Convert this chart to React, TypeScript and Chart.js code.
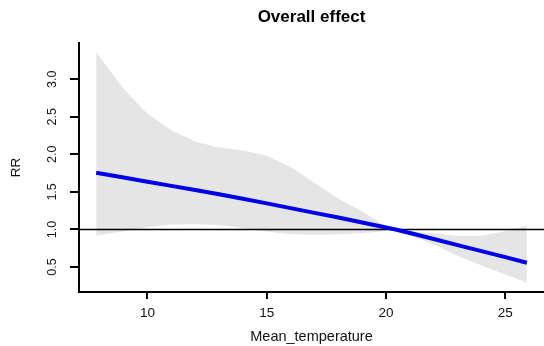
import React, { useEffect, useRef } from "react";
import { Chart, registerables } from "chart.js";

Chart.register(...registerables);

// Temperature grid (x) and estimates
const temps = [7.85, 9, 10, 11, 12, 13, 14, 15, 16, 17, 18, 19, 20, 20.4, 21, 22, 23, 24, 25, 25.9];
const rr = [1.756, 1.692, 1.636, 1.58, 1.525, 1.47, 1.41, 1.347, 1.284, 1.221, 1.158, 1.092, 1.026, 1.0, 0.952, 0.872, 0.792, 0.712, 0.632, 0.556];
const rrHigh = [3.36, 2.87, 2.54, 2.32, 2.17, 2.09, 2.05, 1.98, 1.83, 1.62, 1.41, 1.24, 1.04, 1.0, 0.975, 0.945, 0.915, 0.915, 0.98, 1.05];
const rrLow = [0.92, 0.975, 1.03, 1.065, 1.07, 1.06, 1.02, 0.97, 0.94, 0.93, 0.935, 0.95, 0.98, 0.995, 0.92, 0.8, 0.65, 0.52, 0.4, 0.29];

const xTicks = [10, 15, 20, 25];
const yTicks = [0.5, 1.0, 1.5, 2.0, 2.5, 3.0];
const yTickLabels = ["0.5", "1.0", "1.5", "2.0", "2.5", "3.0"];
const refValue = 1;

const xMin = 7.13;
const xMax = 26.62;
const yMin = 0.167;
const yMax = 3.483;

const FONT = "'Liberation Sans', Arial, Helvetica, sans-serif";

export default function App() {
  const canvasRef = useRef<HTMLCanvasElement | null>(null);

  useEffect(() => {
    const canvas = canvasRef.current;
    if (!canvas) return;

    const yLabelPlugin = {
      id: "yLabelPlugin",
      afterDraw(chart: any) {
        const ys = chart.scales.y;
        const ctx = chart.ctx;
        ctx.save();
        ctx.fillStyle = "#111";
        ctx.font = `12.5px ${FONT}`;
        ctx.textAlign = "center";
        ctx.textBaseline = "middle";
        yTicks.forEach((v, i) => {
          const py = ys.getPixelForValue(v);
          ctx.save();
          ctx.translate(53, py);
          ctx.rotate(-Math.PI / 2);
          ctx.fillText(yTickLabels[i], 0, 0);
          ctx.restore();
        });
        ctx.restore();
      },
    };

    const chart = new Chart(canvas, {
      type: "line",
      data: {
        datasets: [
          {
            label: "RR",
            data: temps.map((t, i) => ({ x: t, y: rr[i] })),
            borderColor: "#0000e6",
            borderWidth: 4,
            pointRadius: 0,
            fill: false,
            tension: 0,
          },
          {
            label: "ref",
            data: [
              { x: xMin, y: refValue },
              { x: xMax, y: refValue },
            ],
            borderColor: "#000",
            borderWidth: 1.5,
            pointRadius: 0,
            fill: false,
          },
          {
            label: "high",
            data: temps.map((t, i) => ({ x: t, y: rrHigh[i] })),
            borderColor: "rgba(0,0,0,0)",
            borderWidth: 0,
            backgroundColor: "#e5e5e5",
            pointRadius: 0,
            fill: "+1",
            tension: 0,
          },
          {
            label: "low",
            data: temps.map((t, i) => ({ x: t, y: rrLow[i] })),
            borderColor: "rgba(0,0,0,0)",
            borderWidth: 0,
            pointRadius: 0,
            fill: false,
            tension: 0,
          },
        ],
      },
      options: {
        responsive: false,
        animation: false,
        layout: { padding: 0 },
        plugins: {
          legend: { display: false },
          tooltip: { enabled: false },
          title: {
            display: true,
            text: "Overall effect",
            fullSize: false,
            color: "#000",
            font: { family: FONT, size: 17, weight: "bold", lineHeight: 1.2 },
            padding: { top: 7, bottom: 15.6 },
          },
        },
        scales: {
          x: {
            type: "linear",
            min: xMin,
            max: xMax,
            afterBuildTicks: (scale: any) => {
              scale.ticks = xTicks.map((v) => ({ value: v }));
            },
            afterFit: (scale: any) => {
              scale.height = 54;
            },
            grid: {
              display: true,
              drawOnChartArea: false,
              drawTicks: true,
              tickLength: 7,
              color: "#000",
              lineWidth: 2,
            },
            border: { display: true, color: "#000", width: 2 },
            ticks: {
              color: "#111",
              font: { family: FONT, size: 13.5 },
              padding: 6,
              maxRotation: 0,
              autoSkip: false,
              callback: (v: any) => String(v),
            },
            title: {
              display: true,
              text: "Mean_temperature",
              color: "#111",
              font: { family: FONT, size: 14.5 },
              padding: { top: 0, bottom: 0 },
            },
          },
          y: {
            type: "linear",
            min: yMin,
            max: yMax,
            afterBuildTicks: (scale: any) => {
              scale.ticks = yTicks.map((v) => ({ value: v }));
            },
            afterFit: (scale: any) => {
              scale.width = 79;
            },
            grid: {
              display: true,
              drawOnChartArea: false,
              drawTicks: true,
              tickLength: 9,
              color: "#000",
              lineWidth: 2,
            },
            border: { display: true, color: "#000", width: 2 },
            ticks: { display: false },
            title: {
              display: true,
              text: "RR",
              color: "#111",
              font: { family: FONT, size: 13.5 },
              padding: { top: 8.5, bottom: 0 },
            },
          },
        },
      },
      plugins: [yLabelPlugin],
    });

    return () => {
      chart.destroy();
    };
  }, []);

  return (
    <div style={{ position: "absolute", left: 0, top: 0, width: 544, height: 346, background: "#fff" }}>
      <canvas ref={canvasRef} width={544} height={346} style={{ display: "block" }} />
    </div>
  );
}
